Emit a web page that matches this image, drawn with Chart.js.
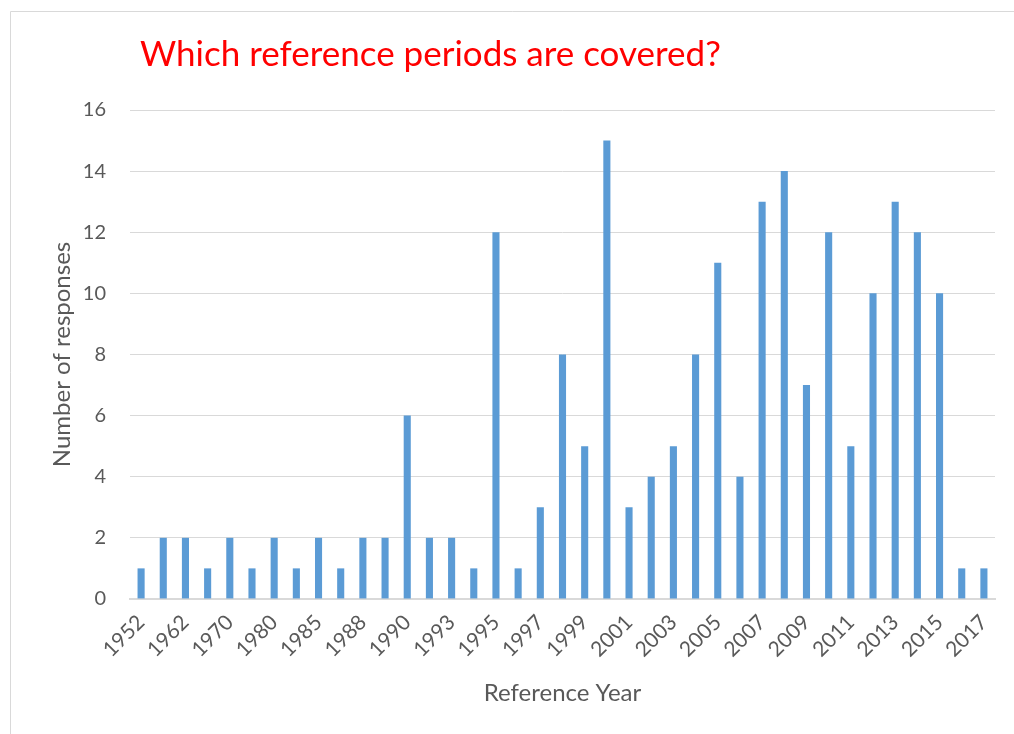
<!DOCTYPE html>
<html lang="en">
<head>
<meta charset="UTF-8">
<title>Which reference periods are covered?</title>
<script src="https://cdn.jsdelivr.net/npm/chart.js"></script>
<style>
  html, body { margin: 0; padding: 0; background: #fff; }
  #wrap { width: 1014px; height: 734px; position: relative; }
</style>
</head>
<body>
<div id="wrap"><canvas id="chart" width="1014" height="734"></canvas></div>
<script>
// reference years (only every other one is labelled on the axis)
var years = ['1952','1957','1962','1965','1970','1975','1980','1983','1985','1987',
             '1988','1989','1990','1992','1993','1994','1995','1996','1997','1998',
             '1999','2000','2001','2002','2003','2004','2005','2006','2007','2008',
             '2009','2010','2011','2012','2013','2014','2015','2016','2017'];
var responses = [1,2,2,1,2,1,2,1,2,1,
                 2,2,6,2,2,1,12,1,3,8,
                 5,15,3,4,5,8,11,4,13,14,
                 7,12,5,10,13,12,10,1,1];
var yTicks = [0,2,4,6,8,10,12,14,16];

var titleText = 'Which reference periods are covered?';
var fontFam = 'Lato, "Open Sans", sans-serif';
var textGrey = '#595959';

// chart frame + red title drawn by hand, like the Excel chart
var decor = {
    id: 'decor',
    beforeDraw: function(chart) {
        var c = chart.ctx;
        c.save();
        c.strokeStyle = '#d9d9d9';
        c.lineWidth = 1;
        c.beginPath();
        c.moveTo(10.5, 734);
        c.lineTo(10.5, 11.5);
        c.lineTo(1014, 11.5);
        c.stroke();
        c.restore();
    },
    afterDraw: function(chart) {
        var c = chart.ctx;
        c.save();
        c.fillStyle = '#ff0000';
        c.font = '35px ' + fontFam;
        c.textBaseline = 'middle';
        c.fillText(titleText, 140, 55);
        c.restore();
    }
};

var ctx = document.getElementById('chart').getContext('2d');
var chart = new Chart(ctx, {
    type: 'bar',
    data: {
        labels: years,
        datasets: [{
            label: 'Number of responses',
            data: responses,
            backgroundColor: '#5b9bd5',
            barPercentage: 0.32,
            categoryPercentage: 1
        }]
    },
    options: {
        responsive: false,
        animation: false,
        layout: { padding: { left: 44, right: 19, top: 110, bottom: 22 } },
        plugins: {
            legend: { display: false },
            tooltip: { enabled: false }
        },
        scales: {
            x: {
                grid: { display: false },
                border: { color: '#d9d9d9', width: 2 },
                ticks: {
                    autoSkip: false,
                    minRotation: 45,
                    maxRotation: 45,
                    color: textGrey,
                    font: { family: fontFam, size: 21 },
                    callback: function(val, i) {
                        return i % 2 === 0 ? years[i] : '';
                    }
                },
                title: {
                    display: true,
                    text: 'Reference Year',
                    color: textGrey,
                    font: { family: fontFam, size: 24 },
                    padding: { top: 14 }
                }
            },
            y: {
                min: 0,
                max: 16,
                afterBuildTicks: function(axis) {
                    axis.ticks = yTicks.map(function(v) { return { value: v }; });
                },
                // fixed axis width so the plot starts where Excel put it
                afterFit: function(axis) {
                    axis.width = 86;
                },
                grid: { color: '#d9d9d9', drawTicks: false },
                border: { display: false },
                ticks: {
                    color: textGrey,
                    padding: 24,
                    font: { family: fontFam, size: 20 }
                },
                title: {
                    display: true,
                    text: 'Number of responses',
                    color: textGrey,
                    font: { family: fontFam, size: 24 },
                    padding: { top: 4, bottom: 6 }
                }
            }
        }
    },
    plugins: [decor]
});
</script>
</body>
</html>
